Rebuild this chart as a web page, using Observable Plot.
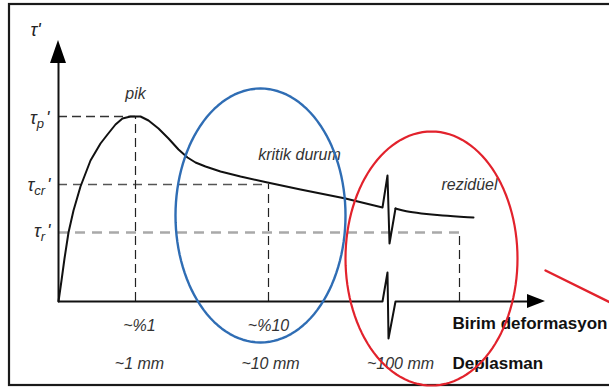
<!DOCTYPE html>
<html><head><meta charset="utf-8">
<script src="https://cdn.jsdelivr.net/npm/d3@7"></script>
<script src="https://cdn.jsdelivr.net/npm/@observablehq/plot@0.6"></script>
<style>html,body{margin:0;padding:0;background:#fff;overflow:hidden}</style>
</head><body><div id="chart"></div>
<script>
// Schematic stress–strain curve (units: arbitrary, origin at the axes' corner)
// Shear stress levels
const tauNames  = ["τ_p'", "τ_cr'", "τ_r'"];
const tauValues = [185, 117, 69];
// Strain positions of peak, critical state and residual
const strainPos = [77, 210, 401];
const strainLabels = ["~%1", "~%10"];
const dispLabels = ["~1 mm", "~10 mm", "~100 mm"];
const stateNames = ["pik", "kritik durum", "rezidüel"];

// Main curve (peak then softening towards the critical state), incl. the axis-break zigzag
const curveX = [0, 3, 6, 10, 15, 22, 32, 42, 49, 57, 64, 72, 82, 90, 100, 110, 120, 129, 137, 147, 162, 182, 209, 242, 287, 324, 329, 331, 337];
const curveY = [0, 21, 43, 69, 91, 115, 141, 158, 167, 177, 183, 185, 185, 181, 173, 163, 152, 144, 139, 135, 130, 125, 119, 112, 103, 94, 126, 58, 93];
// Residual branch
const residX = [337, 347, 362, 382, 415];
const residY = [93, 90, 88, 86, 84];

// Horizontal axis with break
const axisX = [0, 324, 329, 330, 337, 469];
const axisY = [0, 0, 29, -37, 0, 0];

const W = 609, H = 387;
const data = (xs, ys) => xs.map((x, i) => ({x, y: ys[i]}));

// Annotation geometry
const frameBox = [{x1: -49, x2: 562, y1: -84, y2: 297}];
const ellipses = [
  {cx: 202, cy: 86, rx: 85, ry: 127, color: "#2f6db4", w: 2.4},
  {cx: 373, cy: 43, rx: 86, ry: 127, color: "#e2222c", w: 2.2}
];
const ellPts = ellipses.flatMap((e, k) => d3.range(0, 361, 3).map(a => ({
  k, x: e.cx + e.rx * Math.cos(a * Math.PI / 180), y: e.cy + e.ry * Math.sin(a * Math.PI / 180), color: e.color, w: e.w
})));
const redLine = [{x: 487, y: 31}, {x: 562, y: -6}];
const yArrow = [{x: -8, b: 238, t: 238}, {x: 0, b: 238, t: 261}, {x: 8, b: 238, t: 238}];
const xArrow = [{y: -7, b: 469, t: 469}, {y: 0, b: 469, t: 487}, {y: 7, b: 469, t: 469}];

const font = "Liberation Sans, Arial, sans-serif";
const italicLabels = [
  {t: stateNames[0], x: 77, y: 203},
  {t: stateNames[1], x: 241, y: 142},
  {t: stateNames[2], x: 411, y: 112},
  {t: strainLabels[0], x: 81, y: -29},
  {t: strainLabels[1], x: 210, y: -29},
  {t: dispLabels[0], x: 81, y: -67},
  {t: dispLabels[1], x: 212, y: -67},
  {t: dispLabels[2], x: 342, y: -67}
];
const tauLabelPos = [{x: -9, y: 178}, {x: -8, y: 111}, {x: -8, y: 65}];
const tauLabels = tauNames.map((t, i) => ({t, ...tauLabelPos[i]}));
const boldLabels = [
  {t: "Birim deformasyon", x: 394, y: -27},
  {t: "Deplasman", x: 394, y: -67}
];

const chart = Plot.plot({
  width: W, height: H,
  margin: 0,
  x: {domain: [-58, 551], axis: null},
  y: {domain: [-86, 301], axis: null},
  style: {background: "#fff", fontFamily: font},
  marks: [
    Plot.rect(frameBox, {x1: "x1", x2: "x2", y1: "y1", y2: "y2", fill: "none", stroke: "#1a1a1a", strokeWidth: 2.2}),
    // dashed guides
    Plot.ruleY([tauValues[2]], {x1: 0, x2: strainPos[2], stroke: "#a9a9a9", strokeWidth: 2.6, strokeDasharray: "10,7"}),
    Plot.ruleY([tauValues[0]], {x1: 0, x2: strainPos[0], stroke: "#333", strokeWidth: 1.3, strokeDasharray: "9,5"}),
    Plot.ruleY([tauValues[1]], {x1: 0, x2: strainPos[1], stroke: "#555", strokeWidth: 1.5, strokeDasharray: "9,6"}),
    Plot.ruleX(strainPos.map((x, i) => ({x, top: tauValues[i]})), {x: "x", y1: 0, y2: "top", stroke: "#222", strokeWidth: 1.2, strokeDasharray: "9,5"}),
    // axes
    Plot.line(data(axisX, axisY), {x: "x", y: "y", stroke: "#111", strokeWidth: 2}),
    Plot.ruleX([0], {y1: 0, y2: 240, stroke: "#111", strokeWidth: 2}),
    Plot.areaY(yArrow, {x: "x", y1: "b", y2: "t", fill: "#000", curve: "linear"}),
    Plot.areaX(xArrow, {y: "y", x1: "b", x2: "t", fill: "#000", curve: "linear"}),
    // curve
    Plot.line(data(curveX, curveY), {x: "x", y: "y", stroke: "#111", strokeWidth: 2, curve: "linear"}),
    Plot.line(data(residX, residY), {x: "x", y: "y", stroke: "#111", strokeWidth: 2, curve: "basis"}),
    // texts
    Plot.text(italicLabels, {x: "x", y: "y", text: "t", lineAnchor: "bottom", textAnchor: "middle", fontSize: 16, fontStyle: "italic", fill: "#333"}),
    Plot.text(tauLabels, {x: "x", y: "y", text: "t", lineAnchor: "bottom", textAnchor: "end", fontSize: 18, fontStyle: "italic", fill: "#2a2a2a"}),
    Plot.text([{t: "τ'", x: -28, y: 266}], {x: "x", y: "y", text: "t", lineAnchor: "bottom", textAnchor: "start", fontSize: 18, fontStyle: "italic", fill: "#222"}),
    Plot.text(boldLabels, {x: "x", y: "y", text: "t", lineAnchor: "bottom", textAnchor: "start", fontSize: 17, fontWeight: "bold", fill: "#111"}),
    // highlight ellipses and pointer
    Plot.line(ellPts, {x: "x", y: "y", z: "k", stroke: "color", strokeWidth: "w", curve: "linear"}),
    Plot.line(redLine, {x: "x", y: "y", stroke: "#e2222c", strokeWidth: 2.4})
  ]
});

// post-process: subscripts on τ labels
chart.querySelectorAll("text").forEach(t => {
  const s = t.textContent;
  if (s.includes("_")) {
    const m = s.match(/^(.)_(.+?)(')$/);
    if (m) {
      t.textContent = "";
      t.appendChild(document.createTextNode(m[1]));
      const sub = document.createElementNS("http://www.w3.org/2000/svg", "tspan");
      sub.setAttribute("dy", "4"); sub.setAttribute("font-size", "13"); sub.textContent = m[2];
      const pr = document.createElementNS("http://www.w3.org/2000/svg", "tspan");
      pr.setAttribute("dy", "-4"); pr.setAttribute("dx", "2"); pr.textContent = m[3];
      t.appendChild(sub); t.appendChild(pr);
    }
  }
});
document.getElementById("chart").appendChild(chart);
</script>
</body></html>
